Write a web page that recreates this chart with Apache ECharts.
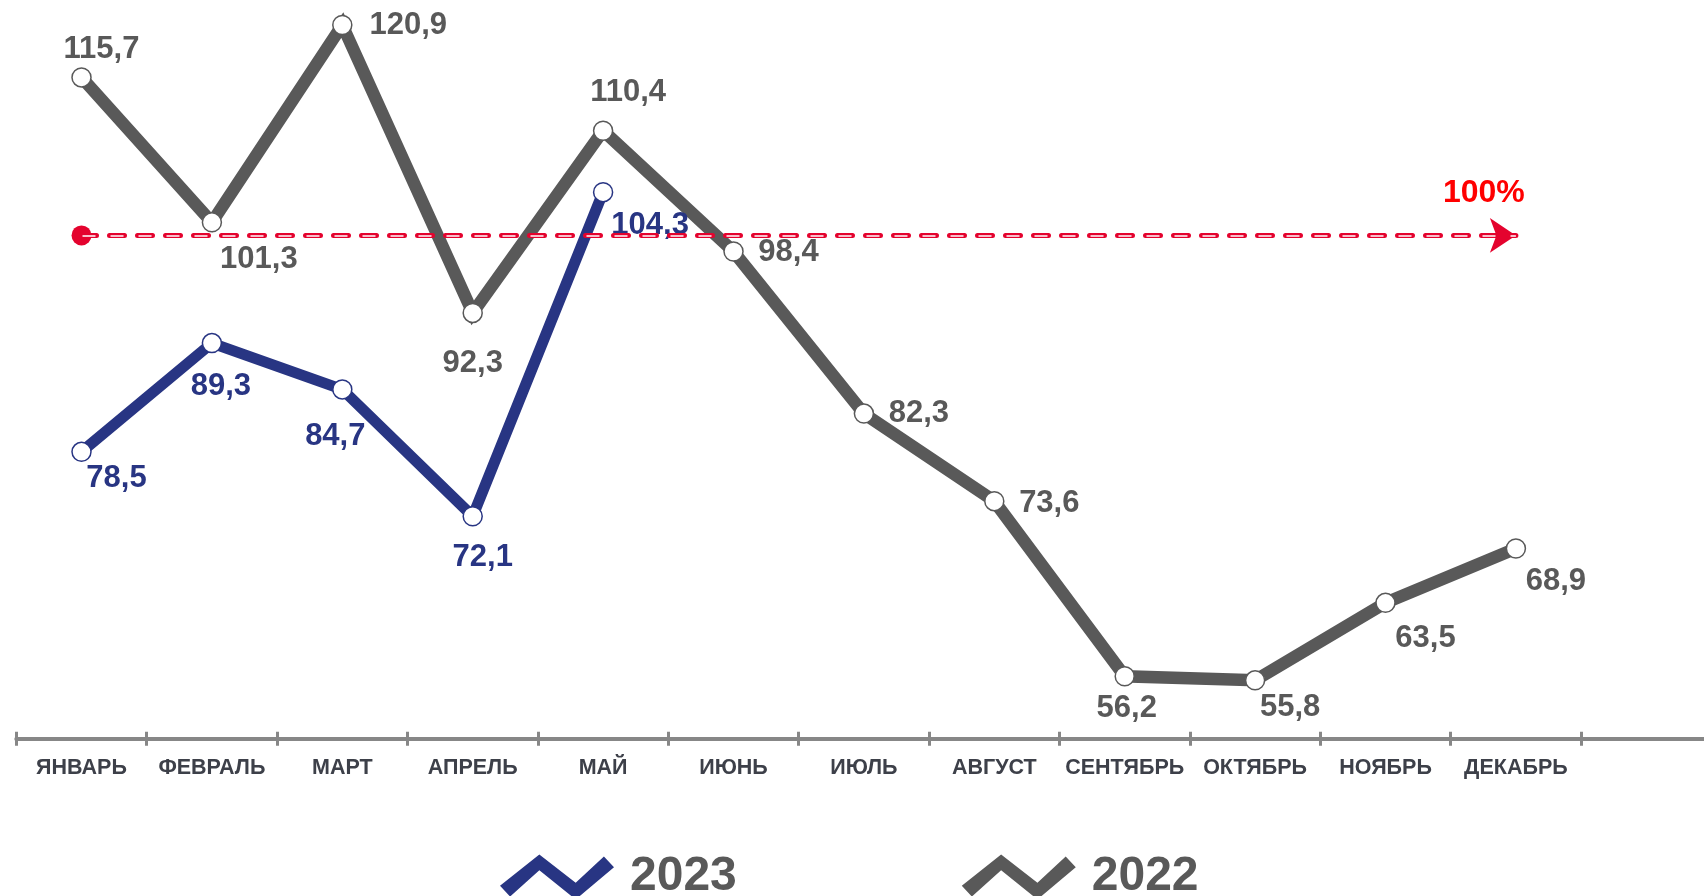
<!DOCTYPE html>
<html><head><meta charset="utf-8">
<script src="https://cdn.jsdelivr.net/npm/echarts@6/dist/echarts.min.js"></script>
<style>html,body{margin:0;padding:0;background:#fff}#c{width:1704px;height:896px}</style>
</head><body><div id="c"></div>
<script>
const months = ['ЯНВАРЬ','ФЕВРАЛЬ','МАРТ','АПРЕЛЬ','МАЙ','ИЮНЬ','ИЮЛЬ','АВГУСТ','СЕНТЯБРЬ','ОКТЯБРЬ','НОЯБРЬ','ДЕКАБРЬ'];
const values2022 = [115.7,101.3,120.9,92.3,110.4,98.4,82.3,73.6,56.2,55.8,63.5,68.9];
const values2023 = [78.5,89.3,84.7,72.1,104.3];
const seriesNames = ['2023','2022'];
const referenceLevel = 100;
const referenceLabel = '100%';

// label placement (style only)
const labelOffsets2022 = [[20,-28],[47,37],[66,0],[0,51],[25,-38],[55,1],[55,0],[55,2],[2,32],[35,27],[40,36],[40,33]];
const labelOffsets2023 = [[35,27],[9,43],[-7,47],[10,41],[47,33]];

const FONT = "'Liberation Sans', Arial, sans-serif";
const GRAY = '#595959';
const NAVY = '#283583';
const RED = '#e4032e';
const AXIS = '#878787';
const zigzag = 'path://M1,30 L40,-2 L76,27 L104,0 L114,11 L76,44 L40,14 L11,41 Z';

const axisCats = months.concat(['']);
const fmt = p => p.value.toFixed(1).replace('.', ',');

function mk(values, offs) {
  return values.map((v, i) => ({ value: v, label: { offset: offs[i] } }));
}

const chart = echarts.init(document.getElementById('c'), null, { renderer: 'canvas' });
chart.setOption({
  animation: false,
  backgroundColor: '#fff',
  grid: { left: 16.3, width: 1695.2, top: 3.9, bottom: 157.3, containLabel: false, outerBoundsMode: 'none' },
  xAxis: [
    {
      type: 'category', data: axisCats, boundaryGap: true, position: 'bottom', offset: 0,
      axisLine: { show: true, lineStyle: { color: AXIS, width: 4 } },
      axisTick: { show: true, length: 7, inside: false, lineStyle: { color: AXIS, width: 3 } },
      axisLabel: { show: true, margin: 18, interval: 0, color: '#3d4049', fontSize: 21.5, fontWeight: 'bold', fontFamily: FONT },
      splitLine: { show: false }
    },
    {
      type: 'category', data: axisCats, boundaryGap: true, position: 'bottom', offset: 0,
      axisLine: { show: false },
      axisTick: { show: true, length: 7, inside: true, lineStyle: { color: AXIS, width: 3 } },
      axisLabel: { show: false },
      splitLine: { show: false }
    }
  ],
  yAxis: { type: 'value', min: 50, max: 123, show: false, splitLine: { show: false } },
  legend: {
    left: 500, top: 853, padding: 0, itemWidth: 114, itemHeight: 45, itemGap: 225,
    icon: zigzag, symbolKeepAspect: false, selectedMode: false,
    textStyle: { color: GRAY, fontSize: 48, fontWeight: 'bold', fontFamily: FONT, padding: [0, 0, 0, 11] },
    data: [
      { name: seriesNames[0], itemStyle: { color: NAVY, borderWidth: 0 } },
      { name: seriesNames[1], itemStyle: { color: GRAY, borderWidth: 0 } }
    ]
  },
  series: [
    {
      name: seriesNames[1], type: 'line', z: 2, clip: false,
      data: mk(values2022, labelOffsets2022),
      symbol: 'circle', symbolSize: 19, showAllSymbol: true,
      lineStyle: { color: GRAY, width: 12.5, join: 'miter' },
      itemStyle: { color: '#fff', borderColor: GRAY, borderWidth: 1.5 },
      label: { show: true, position: 'inside', formatter: fmt, color: GRAY, fontSize: 31, fontWeight: 'bold', fontFamily: FONT }
    },
    {
      name: seriesNames[0], type: 'line', z: 3, clip: false,
      data: mk(values2023, labelOffsets2023),
      symbol: 'circle', symbolSize: 19, showAllSymbol: true,
      lineStyle: { color: NAVY, width: 11, join: 'miter' },
      itemStyle: { color: '#fff', borderColor: NAVY, borderWidth: 1.5 },
      label: { show: true, position: 'inside', formatter: fmt, color: NAVY, fontSize: 31, fontWeight: 'bold', fontFamily: FONT }
    },
    {
      name: 'ref', type: 'line', z: 6, data: [], silent: true,
      markLine: {
        silent: true, animation: false,
        label: { show: false },
        data: [
          [
            { coord: [months[0], referenceLevel], symbol: 'circle', symbolSize: 20,
              lineStyle: { color: RED, width: 5, type: [15, 13], cap: 'round', opacity: 1 } },
            { coord: [months[11], referenceLevel], symbol: 'arrow', symbolSize: 26 }
          ],
          [
            { coord: [months[0], referenceLevel], symbol: 'none',
              lineStyle: { color: '#f8bfcb', width: 2, type: [13, 15], dashOffset: -1, opacity: 1 } },
            { coord: [months[11], referenceLevel], symbol: 'none' }
          ]
        ]
      },
      markPoint: {
        silent: true, symbol: 'circle', symbolSize: 1,
        itemStyle: { color: 'rgba(0,0,0,0)' },
        label: { show: true, position: 'inside', offset: [-32, -42], formatter: referenceLabel,
                 color: '#ff0000', fontSize: 32, fontWeight: 'bold', fontFamily: FONT },
        data: [{ coord: [months[11], referenceLevel] }]
      }
    }
  ]
});
</script></body></html>
